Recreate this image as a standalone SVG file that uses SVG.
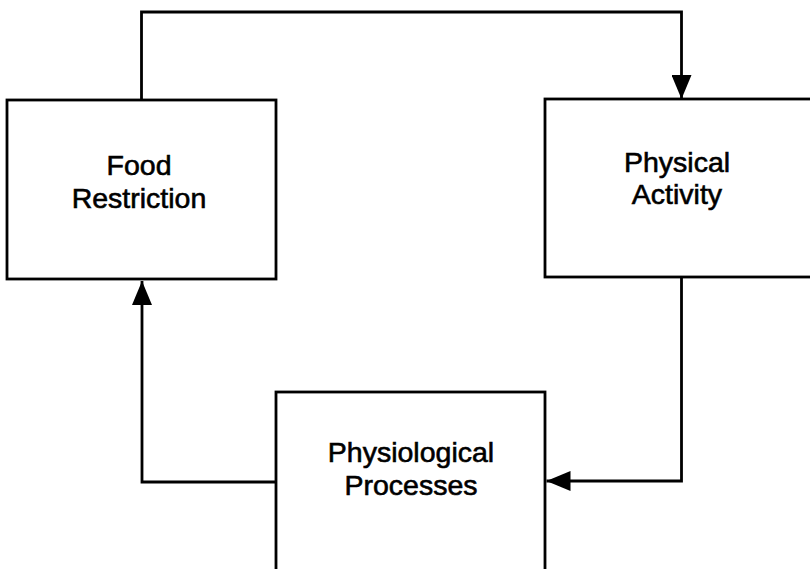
<svg xmlns="http://www.w3.org/2000/svg" width="810" height="569" viewBox="0 0 810 569">
<style>
.box{fill:#fff;stroke:#000;stroke-width:2.8}
.line{fill:none;stroke:#000;stroke-width:2.8}
.lbl{font-family:"Liberation Sans",Arial,Helvetica,sans-serif;font-size:28.5px;fill:#000;stroke:#000;stroke-width:0.6;text-anchor:middle}
</style>
<defs>
<marker id="arr" viewBox="0 0 24 20" refX="24" refY="10" markerWidth="24" markerHeight="20" markerUnits="userSpaceOnUse" orient="auto">
<path d="M0,0 L24,10 L0,20 Z" fill="#000"/>
</marker>
</defs>
<rect width="810" height="569" fill="#fff"/>
<g id="connectors">
<path class="line" d="M141.5,100 V12 H681.5 V99" marker-end="url(#arr)"/>
<path class="line" d="M681.5,277 V481 H546.5" marker-end="url(#arr)"/>
<path class="line" d="M276,482 H142 V281" marker-end="url(#arr)"/>
</g>
<g id="food-restriction">
<rect class="box" x="7" y="100" width="269" height="179"/>
<text class="lbl" x="139" y="175">Food</text>
<text class="lbl" x="139" y="208">Restriction</text>
</g>
<g id="physical-activity">
<rect class="box" x="545" y="99" width="280" height="178"/>
<text class="lbl" x="677" y="172">Physical</text>
<text class="lbl" x="677" y="204">Activity</text>
</g>
<g id="physiological-processes">
<rect class="box" x="276" y="392" width="269" height="200"/>
<text class="lbl" x="411" y="462">Physiological</text>
<text class="lbl" x="411" y="495">Processes</text>
</g>
</svg>
